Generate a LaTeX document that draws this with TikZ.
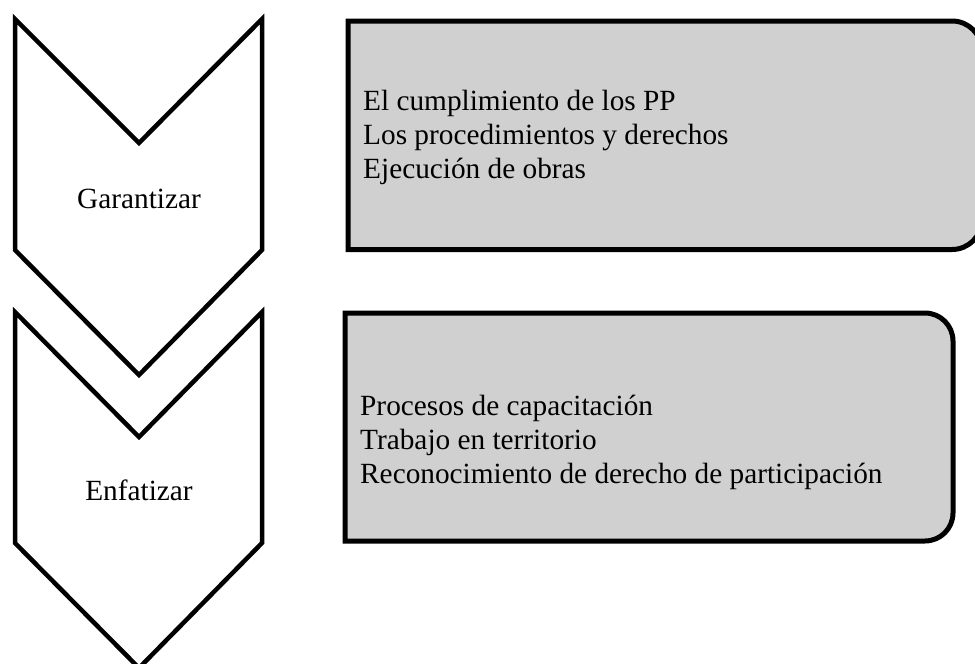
\documentclass[tikz,border=0pt]{standalone}
\usepackage{fontspec}
\setmainfont{Liberation Serif}
\usepackage{tikz}
\usetikzlibrary{calc,positioning}

\begin{document}
\begin{tikzpicture}[x=1pt, y=-1pt]
  \useasboundingbox (0,0) rectangle (975,664);

  % ---- Styles -------------------------------------------------
  \tikzstyle{chevron}=[line width=4.5pt, fill=white, line join=miter]
  \tikzstyle{panel}=[line width=5pt, fill=gray!37]
  \tikzstyle{label}=[font=\fontsize{29.3}{34}\selectfont, inner sep=0pt]

  % ---- Chevrons (pointing down) -------------------------------
  \draw[chevron]
    (15,19) -- (139,143) -- (262,19)   % top notch
    -- (262,250) -- (139,375)          % right side, tip
    -- (15,250) -- cycle;
  \draw[chevron]
    (15,312) -- (139,437) -- (262,312)
    -- (262,543) -- (139,668)
    -- (15,543) -- cycle;

  % ---- Grey panels, rounded on the right ----------------------
  \draw[panel]
    (348,21) [rounded corners=30pt] -- (982,21) -- (982,249.5)
    [sharp corners] -- (348,249.5) -- cycle;
  \draw[panel]
    (345,313) [rounded corners=28pt] -- (953,313) -- (953,541)
    [sharp corners] -- (345,541) -- cycle;

  % ---- Labels -------------------------------------------------
  \node[label, anchor=base] (garantizar) at (139,208) {Garantizar};
  \node[label, anchor=base] (enfatizar)  at (139,500) {Enfatizar};

  \node[label, anchor=north west, align=left] (cumplimiento) at (363,90)
    {El cumplimiento de los PP\\Los procedimientos y derechos\\Ejecución de obras};
  \node[label, anchor=north west, align=left] (procesos) at (360,395)
    {Procesos de capacitación\\Trabajo en territorio\\Reconocimiento de derecho de participación};

\end{tikzpicture}
\end{document}
